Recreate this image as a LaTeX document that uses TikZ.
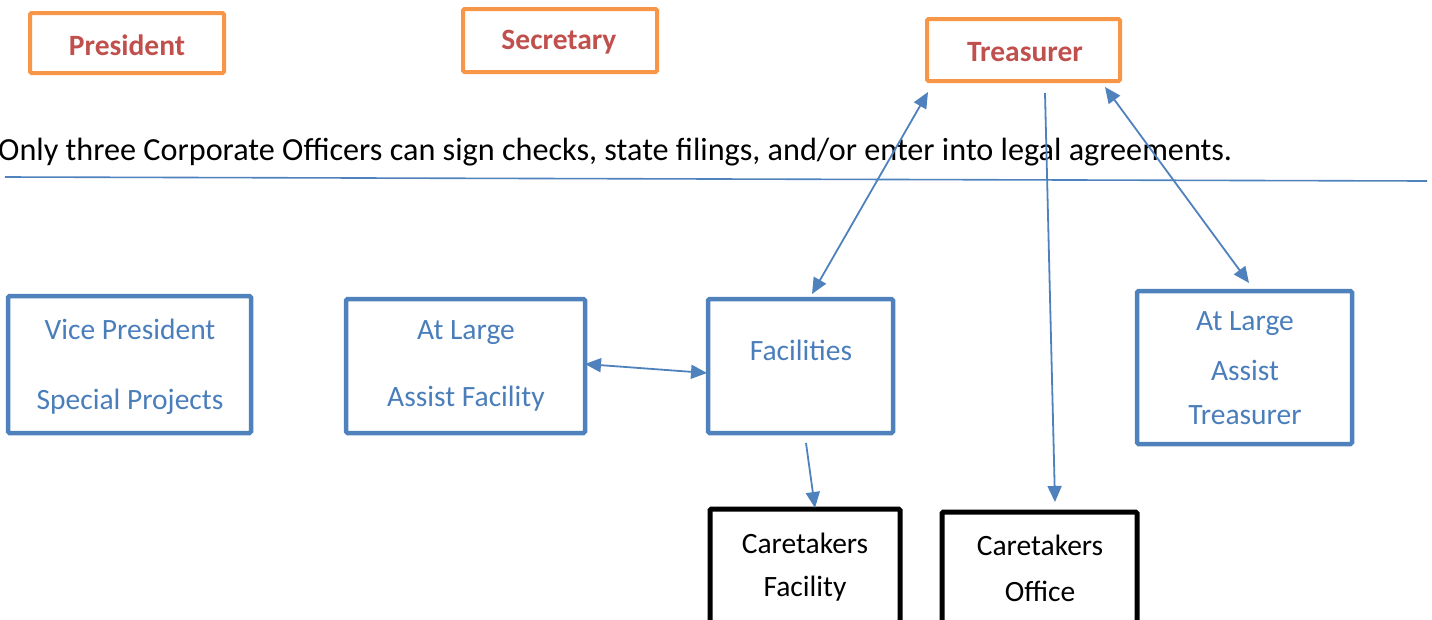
\documentclass[tikz,border=0pt]{standalone}
\usepackage{fontspec}
\setmainfont{Carlito}
\usetikzlibrary{arrows.meta}
\definecolor{obor}{HTML}{F79646}
\definecolor{rtxt}{HTML}{C0504D}
\definecolor{bbor}{HTML}{4F81BD}
\definecolor{btxt}{HTML}{4A7EBB}
\tikzset{
  officer/.style={draw=obor, line width=4pt, rounded corners=1.5pt, inner sep=0pt},
  bluebox/.style={draw=bbor, line width=4.5pt, rounded corners=1.5pt, inner sep=0pt},
  blackbox/.style={draw=black, line width=5pt, rounded corners=1.5pt, inner sep=0pt},
  redtxt/.style={text=rtxt, font=\fontsize{29.5}{34}\selectfont\bfseries, inner sep=0pt},
  bluetxt/.style={text=btxt, font=\fontsize{29.5}{34}\selectfont, inner sep=0pt},
  blacktxt/.style={text=black, font=\fontsize{29.5}{34}\selectfont, inner sep=0pt},
  notetxt/.style={text=black, font=\fontsize{32.2}{38}\selectfont, inner sep=0pt},
  conn/.style={draw=bbor, line width=1.8pt},
  tip/.style={-{Triangle[length=16pt,width=14pt]}},
  dtip/.style={{Triangle[length=16pt,width=14pt]}-{Triangle[length=16pt,width=14pt]}},
}
\begin{document}
\begin{tikzpicture}[x=1pt,y=-1pt]
\useasboundingbox (0,0) rectangle (1432,619);
\clip (0,0) rectangle (1432,619);
% officers
\node[officer, minimum width=194pt, minimum height=60pt] (pres) at (127,43) {};
\node[redtxt] (prest) at (127,45) {President};
\node[officer, minimum width=194pt, minimum height=63pt] (sec) at (560,40.5) {};
\node[redtxt] (sect) at (559,42) {Secretary};
\node[officer, minimum width=193pt, minimum height=62pt] (treas) at (1023.5,50) {};
\node[redtxt] (treast) at (1025,52) {Treasurer};
% statement
\node[notetxt, anchor=west] (note) at (-2,152) {Only three Corporate Officers can sign checks, state filings, and/or enter into legal agreements.};
\coordinate (hl1) at (5,177);
\coordinate (hl2) at (1427,181);
\draw[conn, line width=1.6pt] (hl1) -- (hl2);
% blue boxes
\node[bluebox, minimum width=243pt, minimum height=137pt] (vp) at (129.5,364.5) {};
\node[bluetxt] (vpt1) at (130,329) {Vice President};
\node[bluetxt] (vpt2) at (130,402) {Special Projects};
\node[bluebox, minimum width=239pt, minimum height=134pt] (alf) at (465.5,366) {};
\node[bluetxt] (alft1) at (466,333) {At Large};
\node[bluetxt] (alft2) at (466,399) {Assist Facility};
\node[bluebox, minimum width=185pt, minimum height=134pt] (fac) at (800.5,366) {};
\node[bluetxt] (fact) at (801,350) {Facilities};
\node[bluebox, minimum width=215pt, minimum height=153pt] (alt) at (1244.5,367.5) {};
\node[bluetxt] (altt1) at (1245,324) {At Large};
\node[bluetxt] (altt2) at (1245,370) {Assist};
\node[bluetxt] (altt3) at (1245,415) {Treasurer};
% black boxes
\node[blackbox, minimum width=190pt, minimum height=150pt] (cf) at (805,584) {};
\node[blacktxt] (cft1) at (805,543) {Caretakers};
\node[blacktxt] (cft2) at (805,589) {Facility};
\node[blackbox, minimum width=195pt, minimum height=150pt] (co) at (1039.5,587) {};
\node[blacktxt] (cot1) at (1040,545) {Caretakers};
\node[blacktxt] (cot2) at (1040,591) {Office};
% connector end points
\coordinate (a1) at (928,92);
\coordinate (a2) at (812,294);
\coordinate (b1) at (1105,87);
\coordinate (b2) at (1249,283);
\coordinate (c1) at (1045,93);
\coordinate (c2) at (1055,502);
\coordinate (d1) at (806,443);
\coordinate (d2) at (815,508);
\coordinate (e1) at (585,364);
\coordinate (e2) at (707,373);
\draw[conn, dtip] (a1) -- (a2);
\draw[conn, dtip] (b1) -- (b2);
\draw[conn, tip] (c1) -- (c2);
\draw[conn, tip] (d1) -- (d2);
\draw[conn, dtip] (e1) -- (e2);
\end{tikzpicture}
\end{document}
